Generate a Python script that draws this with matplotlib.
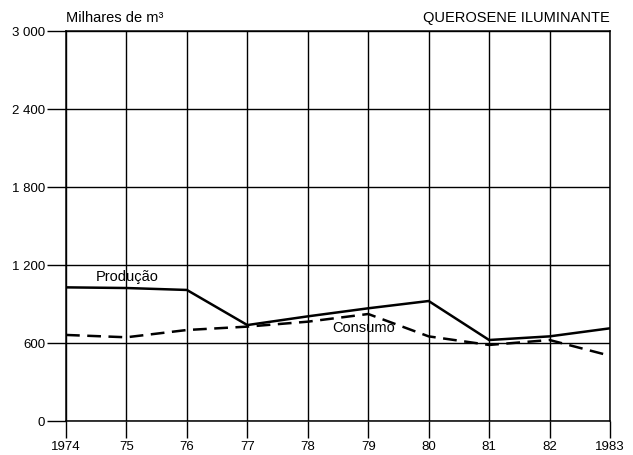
import matplotlib
matplotlib.use("Agg")
import matplotlib.pyplot as plt

plt.rcParams['font.family'] = ['Liberation Sans', 'DejaVu Sans']

years = [1974, 1975, 1976, 1977, 1978, 1979, 1980, 1981, 1982, 1983]
year_labels = ["1974", "75", "76", "77", "78", "79", "80", "81", "82", "1983"]
producao = [1028, 1023, 1008, 738, 805, 867, 923, 623, 651, 713]
consumo = [662, 644, 700, 726, 764, 823, 651, 585, 623, 502]
y_ticks = [0, 600, 1200, 1800, 2400, 3000]
y_tick_labels = ["0", "600", "1 200", "1 800", "2 400", "3 000"]

fig = plt.figure(figsize=(6.33, 4.56), dpi=100)
ax = fig.add_axes([66/633, 1-422/456, (610-66)/633, (422-32)/456])

ax.set_xlim(years[0], years[-1])
ax.set_ylim(0, 3000)
ax.set_xticks(years)
ax.set_xticklabels(year_labels, fontsize=9.5)
ax.set_yticks(y_ticks)
ax.set_yticklabels(y_tick_labels, fontsize=9.5)
ax.grid(True, color='black', linewidth=1.0)
ax.set_axisbelow(True)
for s in ax.spines.values():
    s.set_linewidth(1.1)
    s.set_color('black')
ax.tick_params(axis='y', length=14, width=1.0, pad=1)
ax.tick_params(axis='x', length=12, width=1.0, pad=2)

ax.plot(years, producao, color='black', linewidth=1.8, solid_joinstyle='miter')
ax.plot(years, consumo, color='black', linewidth=1.8, linestyle=(0, (5.5, 3)))

ax.text(1974.5, 1060, "Produção", fontsize=10.5, ha='left', va='bottom')
ax.text(1978.4, 670, "Consumo", fontsize=10.5, ha='left', va='bottom')

fig.text(66/633, 1-18/456, "Milhares de m³", fontsize=10.5, ha='left', va='center')
fig.text(610/633, 1-18/456, "QUEROSENE ILUMINANTE", fontsize=10.5, ha='right', va='center')

fig.savefig("out.png", dpi=100)
